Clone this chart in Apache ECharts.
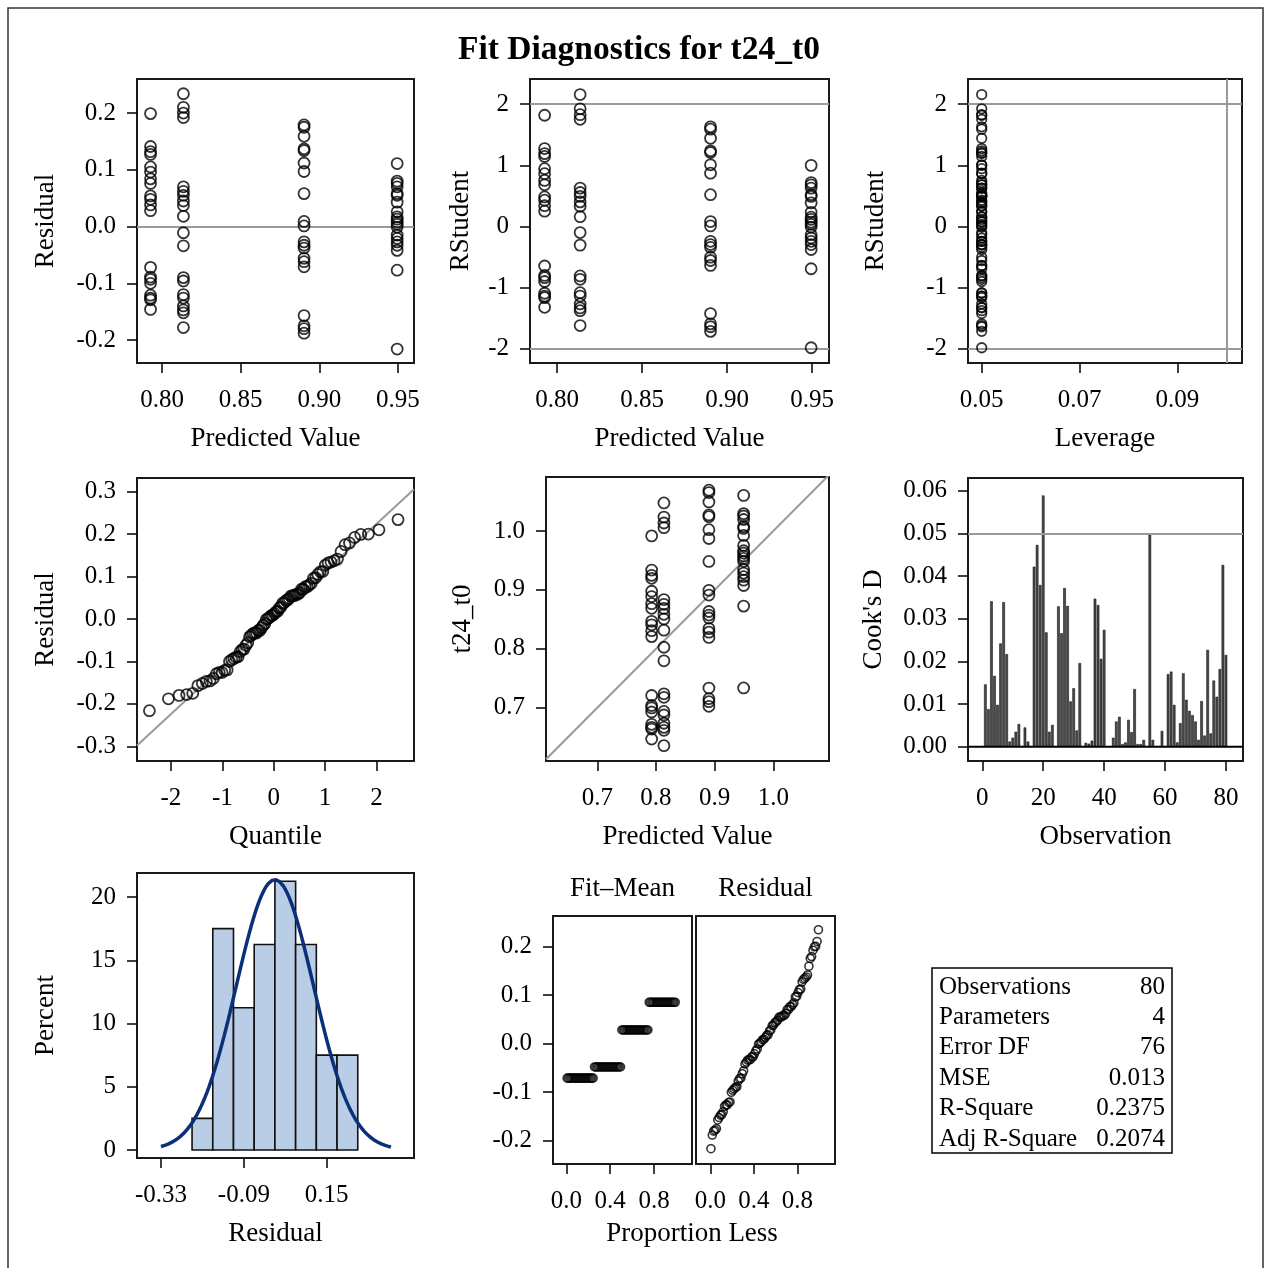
<!DOCTYPE html>
<html>
<head>
<meta charset="utf-8">
<script src="https://cdn.jsdelivr.net/npm/echarts@6/dist/echarts.min.js"></script>
<style>html,body{margin:0;padding:0;background:#fff;}#chart{width:1271px;height:1268px;}</style>
</head>
<body>
<div id="chart"></div>
<script>
// ---------------- data ----------------
const chartTitle = 'Fit Diagnostics for t24_t0';
const fitValues = [0.7927, 0.8136, 0.8903, 0.9495];
const fitMinusMean = [-0.071, -0.048, 0.028, 0.085];
const leverageValues = [0.05, 0.05, 0.05, 0.05];
const residG1 = [0.199, 0.141, 0.132, 0.127, 0.105, 0.096, 0.084, 0.076, 0.054, 0.048, 0.038, 0.028, -0.072, -0.089, -0.093, -0.100, -0.121, -0.126, -0.129, -0.146];
const residG2 = [0.234, 0.210, 0.200, 0.192, 0.070, 0.062, 0.055, 0.045, 0.037, 0.018, -0.011, -0.034, -0.090, -0.096, -0.120, -0.126, -0.140, -0.147, -0.152, -0.178];
const residG3 = [0.179, 0.175, 0.159, 0.137, 0.134, 0.112, 0.097, 0.058, 0.009, 0.001, -0.027, -0.033, -0.038, -0.056, -0.062, -0.071, -0.157, -0.175, -0.180, -0.188];
const residG4 = [0.111, 0.080, 0.076, 0.070, 0.058, 0.055, 0.043, 0.026, 0.017, 0.013, 0.008, 0.004, -0.001, -0.015, -0.021, -0.027, -0.033, -0.042, -0.077, -0.216];
const cooksD = [0.0146, 0.0088, 0.0341, 0.0166, 0.0098, 0.0242, 0.0339, 0.0217, 0.0012, 0.0021,
  0.0035, 0.0053, 0.0001, 0.0045, 0.0012, 0.0001, 0.0422, 0.0473, 0.0379, 0.0589,
  0.0268, 0.0035, 0.0051, 0.0001, 0.0329, 0.0266, 0.0372, 0.0330, 0.0106, 0.0137,
  0.0038, 0.0196, 0.0001, 0.0009, 0.0007, 0.0014, 0.0347, 0.0332, 0.0206, 0.0274,
  0.0001, 0.0001, 0.0021, 0.0059, 0.0070, 0.0006, 0.0010, 0.0063, 0.0034, 0.0135,
  0.0006, 0.0006, 0.0016, 0.0001, 0.0497, 0.0016, 0.0001, 0.0001, 0.0037, 0.0001,
  0.0170, 0.0176, 0.0098, 0.0010, 0.0055, 0.0172, 0.0110, 0.0084, 0.0074, 0.0059,
  0.0016, 0.0107, 0.0026, 0.0227, 0.0031, 0.0155, 0.0117, 0.0182, 0.0426, 0.0215];
const histEdges = [-0.24, -0.18, -0.12, -0.06, 0, 0.06, 0.12, 0.18, 0.24];
const histPercent = [2.5, 17.5, 11.25, 16.25, 21.25, 16.25, 7.5, 7.5];
const normalMean = 0;
const normalSd = 0.112;
const normalCurveRange = [-0.33, 0.336];
const tableLabels = ['Observations', 'Parameters', 'Error DF', 'MSE', 'R-Square', 'Adj R-Square'];
const tableValues = ['80', '4', '76', '0.013', '0.2375', '0.2074'];
const errorDF = 76;
const mseValue = 0.013;
const refRStudent = [-2, 2];
const refLeverage = 0.1;
const refCooksD = 0.05;

const ticksPred = [0.80, 0.85, 0.90, 0.95];
const ticksResid = [-0.2, -0.1, 0, 0.1, 0.2];
const ticksRStud = [-2, -1, 0, 1, 2];
const ticksLev = [0.05, 0.07, 0.09];
const ticksQuant = [-2, -1, 0, 1, 2];
const ticksResidQQ = [-0.3, -0.2, -0.1, 0, 0.1, 0.2, 0.3];
const ticksObsPred = [0.7, 0.8, 0.9, 1.0];
const ticksObsNum = [0, 20, 40, 60, 80];
const ticksCook = [0, 0.01, 0.02, 0.03, 0.04, 0.05, 0.06];
const ticksHistX = [-0.33, -0.09, 0.15];
const ticksHistY = [0, 5, 10, 15, 20];
const ticksProp = [0.0, 0.4, 0.8];
const ticksSpread = [-0.2, -0.1, 0, 0.1, 0.2];

// ---------------- derived (statistical definitions) ----------------
const groups = [residG1, residG2, residG3, residG4];
function rstudent(r, h) {
  const s2i = (errorDF * mseValue - r * r / (1 - h)) / (errorDF - 1);
  return r / Math.sqrt(s2i * (1 - h));
}
function qnorm(p) {
  const a = [-3.969683028665376e+01, 2.209460984245205e+02, -2.759285104469687e+02, 1.383577518672690e+02, -3.066479806614716e+01, 2.506628277459239e+00];
  const b = [-5.447609879822406e+01, 1.615858368580409e+02, -1.556989798598866e+02, 6.680131188771972e+01, -1.328068155288572e+01];
  const c = [-7.784894002430293e-03, -3.223964580411365e-01, -2.400758277161838e+00, -2.549732539343734e+00, 4.374664141464968e+00, 2.938163982698783e+00];
  const d = [7.784695709041462e-03, 3.224671290700398e-01, 2.445134137142996e+00, 3.754408661907416e+00];
  const pl = 0.02425, ph = 1 - pl;
  let q, r;
  if (p < pl) { q = Math.sqrt(-2 * Math.log(p)); return (((((c[0]*q+c[1])*q+c[2])*q+c[3])*q+c[4])*q+c[5]) / ((((d[0]*q+d[1])*q+d[2])*q+d[3])*q+1); }
  if (p <= ph) { q = p - 0.5; r = q*q; return (((((a[0]*r+a[1])*r+a[2])*r+a[3])*r+a[4])*r+a[5])*q / (((((b[0]*r+b[1])*r+b[2])*r+b[3])*r+b[4])*r+1); }
  q = Math.sqrt(-2 * Math.log(1 - p));
  return -(((((c[0]*q+c[1])*q+c[2])*q+c[3])*q+c[4])*q+c[5]) / ((((d[0]*q+d[1])*q+d[2])*q+d[3])*q+1);
}

const p1Data = [], p2Data = [], p3Data = [], p5Data = [], allResid = [], allFitMean = [];
groups.forEach((g, gi) => {
  g.forEach(r => {
    const rs = rstudent(r, leverageValues[gi]);
    p1Data.push([fitValues[gi], r]);
    p2Data.push([fitValues[gi], rs]);
    p3Data.push([leverageValues[gi], rs]);
    p5Data.push([fitValues[gi], fitValues[gi] + r]);
    allResid.push(r);
    allFitMean.push(fitMinusMean[gi]);
  });
});
const nObs = allResid.length;
const sortedResid = allResid.slice().sort((x, y) => x - y);
const sortedFitMean = allFitMean.slice().sort((x, y) => x - y);
const qqData = sortedResid.map((r, i) => [qnorm((i + 1 - 0.375) / (nObs + 0.25)), r]);
const spreadFit = sortedFitMean.map((v, i) => [(i + 0.5) / nObs, v]);
const spreadRes = sortedResid.map((v, i) => [(i + 0.5) / nObs, v]);
const cookData = cooksD.map((v, i) => [i + 1, v]);
const histData = histPercent.map((p, i) => [histEdges[i], histEdges[i + 1], p]);
const binW = histEdges[1] - histEdges[0];
const curveData = [];
for (let k = 0; k <= 120; k++) {
  const x = normalCurveRange[0] + (normalCurveRange[1] - normalCurveRange[0]) * k / 120;
  const z = (x - normalMean) / normalSd;
  curveData.push([x, 100 * binW * Math.exp(-0.5 * z * z) / (normalSd * Math.sqrt(2 * Math.PI))]);
}

// ---------------- layout ----------------
const FONT = 'Liberation Serif';
const grids = [
  {left: 137, top: 79, width: 277, height: 284},   // 0 resid vs pred
  {left: 530, top: 79, width: 299, height: 284},   // 1 rstudent vs pred
  {left: 968, top: 79, width: 274, height: 284},   // 2 rstudent vs leverage
  {left: 137, top: 478, width: 277, height: 283},  // 3 qq
  {left: 546, top: 477, width: 283, height: 284},  // 4 obs vs pred
  {left: 968, top: 478, width: 275, height: 283},  // 5 cook
  {left: 137, top: 873, width: 277, height: 285},  // 6 histogram
  {left: 553, top: 916, width: 139, height: 248},  // 7 fit-mean
  {left: 696, top: 916, width: 139, height: 248}   // 8 residual spread
].map(g => Object.assign({show: true, borderColor: '#1a1a1a', borderWidth: 2, backgroundColor: '#fff'}, g));

function axis(gi, min, max, ticks, dec, name, nameGap, isY, showLabels) {
  return {
    type: 'value', gridIndex: gi, min: min, max: max, scale: true,
    position: isY ? 'left' : 'bottom',
    axisLine: {show: false, onZero: false}, splitLine: {show: false},
    axisTick: {show: true, inside: false, length: 10, customValues: ticks, lineStyle: {color: '#000', width: 1.5}},
    axisLabel: {show: showLabels !== false, customValues: ticks, margin: isY ? 21 : 25,
      fontFamily: FONT, fontSize: 25, color: '#000',
      formatter: v => v.toFixed(dec)},
    name: name, nameLocation: 'middle', nameGap: nameGap,
    nameTextStyle: {fontFamily: FONT, fontSize: 27, color: '#000'}
  };
}
const xAxes = [
  axis(0, 0.7841, 0.9602, ticksPred, 2, 'Predicted Value', 62, false),
  axis(1, 0.7841, 0.9600, ticksPred, 2, 'Predicted Value', 62, false),
  axis(2, 0.0472, 0.1032, ticksLev, 2, 'Leverage', 62, false),
  axis(3, -2.66, 2.73, ticksQuant, 0, 'Quantile', 62, false),
  axis(4, 0.6126, 1.095, ticksObsPred, 1, 'Predicted Value', 62, false),
  axis(5, -4.7, 85.6, ticksObsNum, 0, 'Observation', 62, false),
  axis(6, -0.3995, 0.4029, ticksHistX, 2, 'Residual', 62, false),
  axis(7, -0.123, 1.147, ticksProp, 1, '', 0, false),
  axis(8, -0.131, 1.146, ticksProp, 1, '', 0, false)
];
const yAxes = [
  axis(0, -0.2405, 0.26, ticksResid, 1, 'Residual', 78, true),
  axis(1, -2.23, 2.41, ticksRStud, 0, 'RStudent', 56, true),
  axis(2, -2.23, 2.41, ticksRStud, 0, 'RStudent', 79, true),
  axis(3, -0.3345, 0.332, ticksResidQQ, 1, 'Residual', 78, true),
  axis(4, 0.6095, 1.0917, ticksObsPred, 1, 't24_t0', 70, true),
  axis(5, -0.00336, 0.063, ticksCook, 2, "Cook's D", 81, true),
  axis(6, -0.63, 21.9, ticksHistY, 0, 'Percent', 78, true),
  axis(7, -0.2475, 0.2623, ticksSpread, 1, '', 0, true),
  axis(8, -0.2475, 0.2623, ticksSpread, 1, '', 0, true, false)
];
yAxes[8].axisTick.show = false;

const circle = (size, bw) => ({symbol: 'circle', symbolSize: size,
  itemStyle: {color: 'rgba(0,0,0,0)', borderColor: '#000', borderWidth: bw}});
const refStyle = {color: '#9a9a9a', width: 2, type: 'solid'};
function refLines(items, style) {
  return {silent: true, symbol: 'none', label: {show: false}, lineStyle: style || refStyle,
    emphasis: {disabled: true}, data: items};
}
function scatter(gi, data, size, bw, extra) {
  return Object.assign({type: 'scatter', xAxisIndex: gi, yAxisIndex: gi, data: data, z: 5},
    circle(size, bw), extra || {});
}

const series = [
  scatter(0, p1Data, 11, 1.8, {markLine: refLines([{yAxis: 0}])}),
  scatter(1, p2Data, 11, 1.8, {markLine: refLines(refRStudent.map(v => ({yAxis: v})))}),
  scatter(2, p3Data, 9.5, 1.8, {markLine: refLines(refRStudent.map(v => ({yAxis: v})).concat([{xAxis: refLeverage}]))}),
  {type: 'line', xAxisIndex: 3, yAxisIndex: 3, symbol: 'none', silent: true, z: 2,
    lineStyle: refStyle,
    data: [[-2.66, normalMean + normalSd * -2.66], [2.73, normalMean + normalSd * 2.73]]},
  scatter(3, qqData, 11, 1.8),
  {type: 'line', xAxisIndex: 4, yAxisIndex: 4, symbol: 'none', silent: true, z: 2,
    lineStyle: refStyle, data: [[0.6126, 0.6126], [1.095, 1.095]]},
  scatter(4, p5Data, 11, 1.8),
  {type: 'bar', xAxisIndex: 5, yAxisIndex: 5, data: cookData, barWidth: 2.6, z: 3,
    itemStyle: {color: '#4a4a4a', borderColor: '#000', borderWidth: 0.5},
    markLine: refLines([{yAxis: refCooksD}])},
  {type: 'line', xAxisIndex: 5, yAxisIndex: 5, symbol: 'none', silent: true, z: 4,
    lineStyle: {color: '#000', width: 2}, data: [[-4.7, 0], [85.6, 0]]},
  {type: 'custom', xAxisIndex: 6, yAxisIndex: 6, data: histData, z: 2,
    encode: {x: [0, 1], y: 2},
    renderItem: function (params, api) {
      const p0 = api.coord([api.value(0), api.value(2)]);
      const p1 = api.coord([api.value(1), 0]);
      return {type: 'rect', shape: {x: p0[0], y: p0[1], width: p1[0] - p0[0], height: p1[1] - p0[1]},
        style: {fill: '#bacde6', stroke: '#111', lineWidth: 1.6}};
    }},
  {type: 'line', xAxisIndex: 6, yAxisIndex: 6, symbol: 'none', smooth: false, z: 4,
    lineStyle: {color: '#0b2f78', width: 3.5}, data: curveData},
  scatter(7, spreadFit, 8, 1.6),
  scatter(8, spreadRes, 8, 1.6)
];

const graphics = [
  {type: 'rect', shape: {x: 8, y: 8, width: 1255, height: 1270}, style: {fill: 'none', stroke: '#333', lineWidth: 1.5}, z: -10, silent: true},
  {type: 'text', x: 622.5, y: 889, style: {text: 'Fit–Mean', font: '27px "Liberation Serif"', fill: '#000', textAlign: 'center', textVerticalAlign: 'middle'}},
  {type: 'text', x: 765.5, y: 889, style: {text: 'Residual', font: '27px "Liberation Serif"', fill: '#000', textAlign: 'center', textVerticalAlign: 'middle'}},
  {type: 'text', x: 692, y: 1234, style: {text: 'Proportion Less', font: '27px "Liberation Serif"', fill: '#000', textAlign: 'center', textVerticalAlign: 'middle'}},
  {type: 'rect', shape: {x: 932, y: 968, width: 240, height: 185}, style: {fill: 'none', stroke: '#000', lineWidth: 1.5}}
];
tableLabels.forEach((lab, i) => {
  const yy = 987 + i * 30.4;
  graphics.push({type: 'text', x: 939, y: yy, style: {text: lab, font: '25px "Liberation Serif"', fill: '#000', textAlign: 'left', textVerticalAlign: 'middle'}});
  graphics.push({type: 'text', x: 1165, y: yy, style: {text: tableValues[i], font: '25px "Liberation Serif"', fill: '#000', textAlign: 'right', textVerticalAlign: 'middle'}});
});

const chart = echarts.init(document.getElementById('chart'), null, {renderer: 'canvas'});
chart.setOption({
  animation: false,
  backgroundColor: '#fff',
  title: {text: chartTitle, left: 458, top: 33, padding: 0,
    textStyle: {fontFamily: FONT, fontSize: 33.5, fontWeight: 'bold', color: '#000'}},
  grid: grids,
  xAxis: xAxes,
  yAxis: yAxes,
  series: series,
  graphic: graphics
});
</script>
</body>
</html>
